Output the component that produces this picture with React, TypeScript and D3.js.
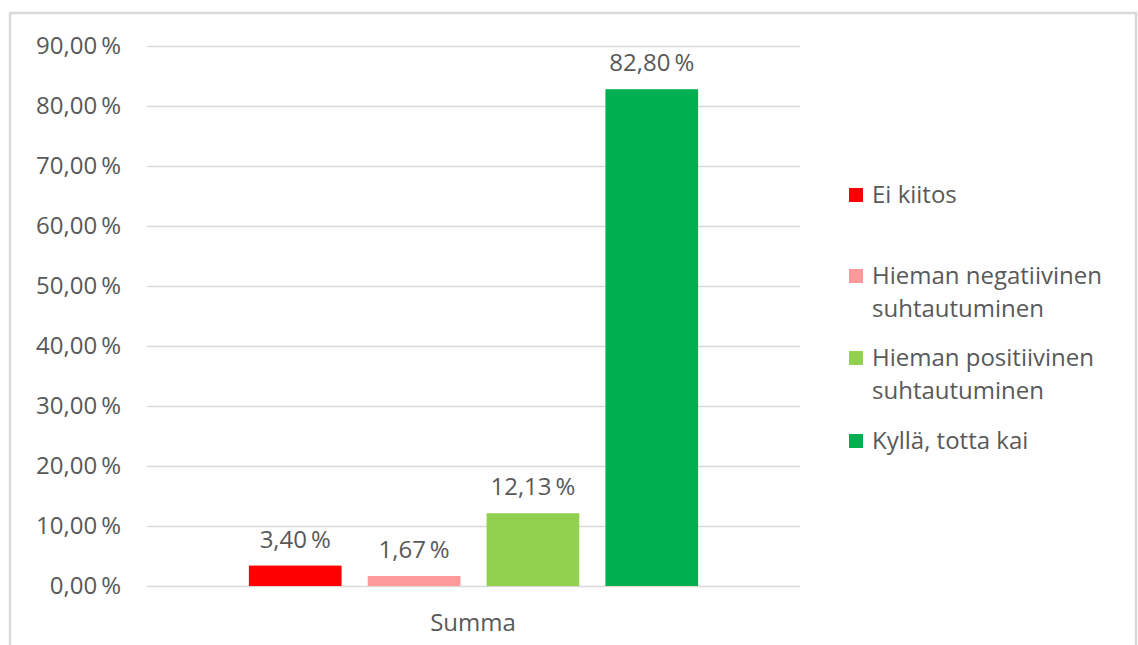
import { useEffect, useRef } from 'react';
import * as d3 from 'd3';

// Chart data
const categories = ['Ei kiitos', 'Hieman negatiivinen suhtautuminen', 'Hieman positiivinen suhtautuminen', 'Kyllä, totta kai'];
const values = [3.4, 1.67, 12.13, 82.8];
const colors = ['#ff0000', '#ff9999', '#92d050', '#00b050'];
const legendLines = [['Ei kiitos'], ['Hieman negatiivinen', 'suhtautuminen'], ['Hieman positiivinen', 'suhtautuminen'], ['Kyllä, totta kai']];
const yTicks = [0, 10, 20, 30, 40, 50, 60, 70, 80, 90];
const groupLabel = 'Summa';

const W = 1138;
const H = 645;
const FONT = '"Open Sans", sans-serif';
const FS = 24;
const TEXT = '#595959';

const fmt = (v: number) => v.toFixed(2).replace('.', ',') + '\u2009%';

const App = () => {
    const ref = useRef<SVGSVGElement>(null);

    useEffect(() => {
        const svg = d3.select(ref.current);
        svg.selectAll('*').remove();

        // outer chart border
        svg.append('rect')
            .attr('x', 10).attr('y', 13)
            .attr('width', 1126).attr('height', 700)
            .attr('fill', '#fff')
            .attr('stroke', '#d9d9d9').attr('stroke-width', 2.5);

        const plotLeft = 147, plotRight = 800;
        const y = d3.scaleLinear().domain([0, 90]).range([586, 46]);

        const x = d3.scaleBand<string>()
            .domain(categories)
            .range([237, 710])
            .paddingInner(0.22)
            .paddingOuter(0.1);

        // gridlines
        svg.append('g').selectAll('line')
            .data(yTicks)
            .join('line')
            .attr('x1', plotLeft).attr('x2', plotRight)
            .attr('y1', d => Math.round(y(d)) + 0.5).attr('y2', d => Math.round(y(d)) + 0.5)
            .attr('stroke', '#d9d9d9').attr('stroke-width', 1.3);

        // y tick labels
        svg.append('g').selectAll('text')
            .data(yTicks)
            .join('text')
            .attr('x', 121)
            .attr('y', d => y(d))
            .attr('dy', '0.35em')
            .attr('text-anchor', 'end')
            .attr('font-family', FONT).attr('font-size', FS)
            .attr('fill', TEXT)
            .text(d => fmt(d));

        // bars
        svg.append('g').selectAll('rect')
            .data(values)
            .join('rect')
            .attr('x', (_, i) => x(categories[i])!)
            .attr('width', x.bandwidth())
            .attr('y', d => y(d))
            .attr('height', d => y(0) - y(d))
            .attr('fill', (_, i) => colors[i]);

        // value labels
        svg.append('g').selectAll('text')
            .data(values)
            .join('text')
            .attr('x', (_, i) => x(categories[i])! + x.bandwidth() / 2)
            .attr('y', d => y(d) - 18)
            .attr('text-anchor', 'middle')
            .attr('font-family', FONT).attr('font-size', FS)
            .attr('fill', TEXT)
            .text(d => fmt(d));

        // category label
        svg.append('text')
            .attr('x', 473).attr('y', 631)
            .attr('text-anchor', 'middle')
            .attr('font-family', FONT).attr('font-size', FS)
            .attr('fill', TEXT)
            .text(groupLabel);

        // legend
        const legendY = [195, 276, 358, 441];
        const lg = svg.append('g');
        legendLines.forEach((lines, i) => {
            lg.append('rect')
                .attr('x', 849).attr('y', legendY[i] - 7)
                .attr('width', 14).attr('height', 14)
                .attr('fill', colors[i]);
            lines.forEach((line, j) => {
                lg.append('text')
                    .attr('x', 872).attr('y', legendY[i] + j * 33)
                    .attr('dy', '0.35em')
                    .attr('font-family', FONT).attr('font-size', FS)
                    .attr('fill', TEXT)
                    .text(line);
            });
        });
    }, []);

    return (
        <div style={{ position: 'absolute', left: 0, top: 0 }}>
            <svg ref={ref} width={W} height={H} style={{ display: 'block' }}></svg>
        </div>
    );
};

export default App;
